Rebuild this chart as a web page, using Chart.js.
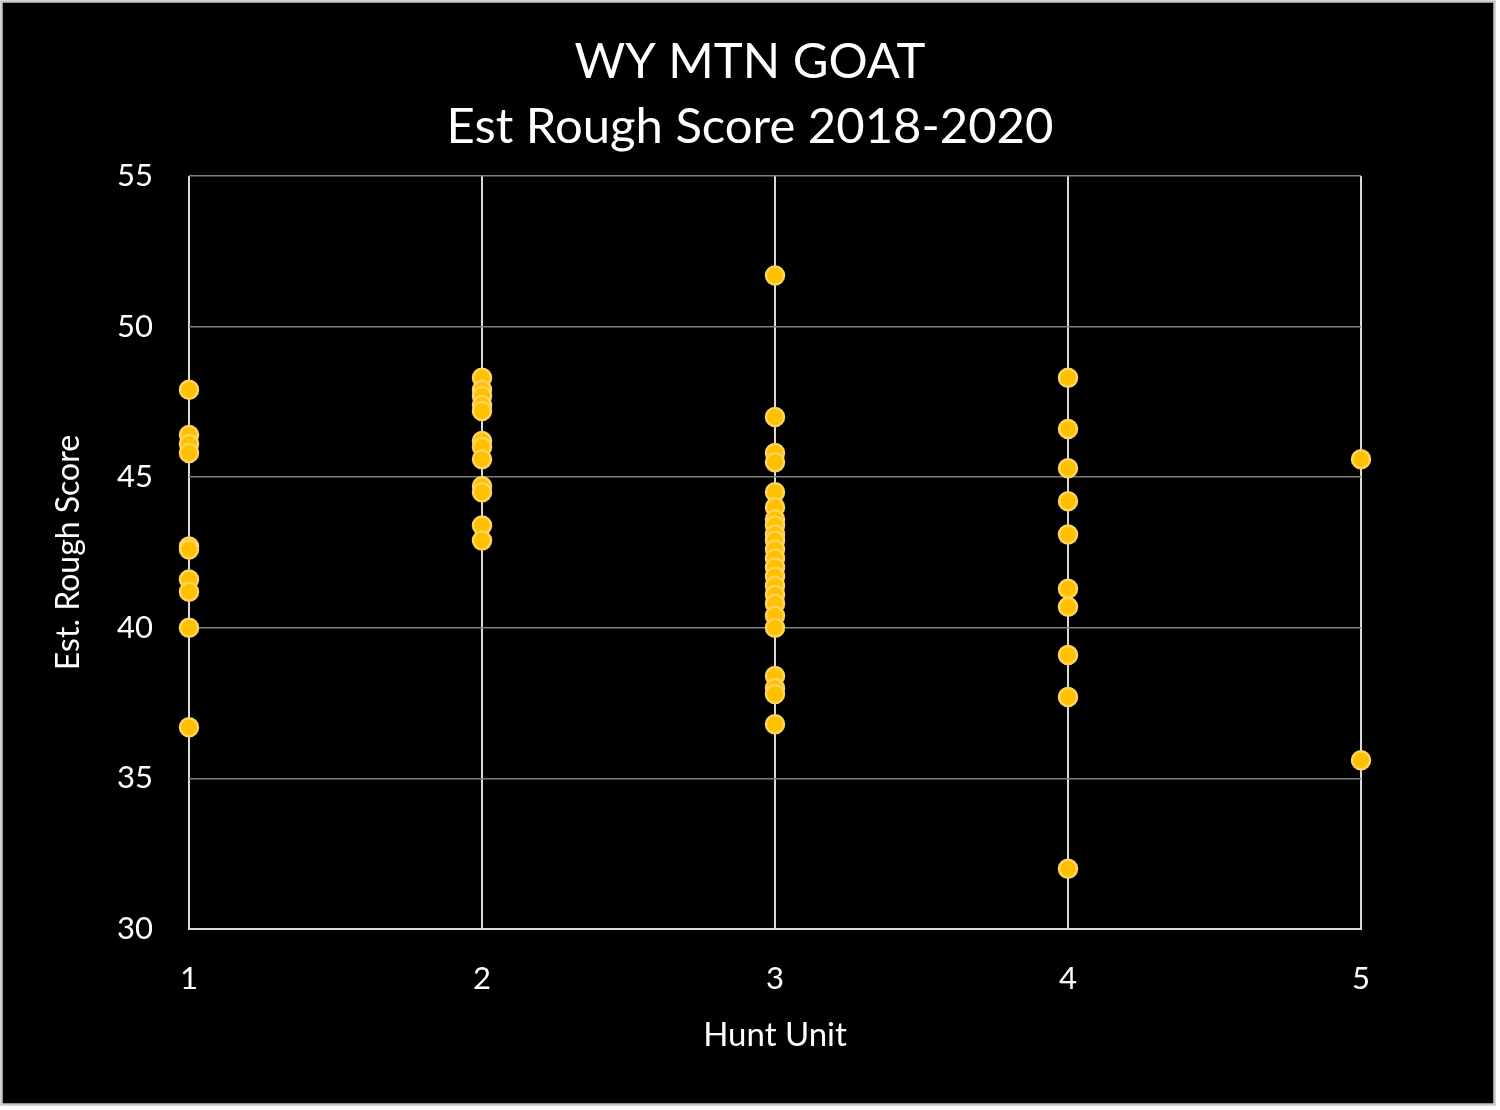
<!DOCTYPE html>
<html>
<head>
<meta charset="utf-8">
<script src="https://cdn.jsdelivr.net/npm/chart.js@4.4.1/dist/chart.umd.min.js"></script>
<style>
  html, body { margin: 0; padding: 0; background: #ffffff; }
  #wrap { width: 1500px; height: 1110px; }
</style>
</head>
<body>
<div id="wrap"><canvas id="c" width="1500" height="1110"></canvas></div>
<script>
const titleLines = ["WY MTN GOAT", "Est Rough Score 2018-2020"];
const xAxisTitle = "Hunt Unit";
const yAxisTitle = "Est. Rough Score";
const huntUnits = [1, 2, 3, 4, 5];
const unit1Scores = [47.9, 46.4, 46.1, 45.8, 42.7, 42.6, 41.6, 41.2, 40.0, 36.7];
const unit2Scores = [48.3, 47.9, 47.7, 47.4, 47.2, 46.2, 46.0, 45.6, 44.7, 44.5, 43.4, 42.9];
const unit3Scores = [51.7, 47.0, 45.8, 45.5, 44.5, 44.0, 43.6, 43.4, 43.1, 42.9, 42.6, 42.3, 42.0, 41.7, 41.4, 41.1, 40.8, 40.4, 40.0, 38.4, 38.0, 37.8, 36.8];
const unit4Scores = [48.3, 46.6, 45.3, 44.2, 43.1, 41.3, 40.7, 39.1, 37.7, 32.0];
const unit5Scores = [45.6, 35.6];
const yTicks = [30, 35, 40, 45, 50, 55];

const scoresByUnit = [unit1Scores, unit2Scores, unit3Scores, unit4Scores, unit5Scores];
const points = [];
huntUnits.forEach((u, i) => scoresByUnit[i].forEach(s => points.push({x: u, y: s})));

const FONT = "Lato, 'Open Sans', sans-serif";

const bgPlugin = {
  id: 'bg',
  beforeDraw(chart) {
    const ctx = chart.ctx;
    ctx.save();
    ctx.fillStyle = '#ffffff';
    ctx.fillRect(0, 0, chart.width, chart.height);
    ctx.fillStyle = '#000000';
    ctx.fillRect(1, 1, 1494, 1104);
    ctx.strokeStyle = '#c8c8c8';
    ctx.lineWidth = 2.5;
    ctx.strokeRect(1.5, 1.5, 1493, 1103);
    ctx.restore();
  },
  afterDraw(chart) {
    const ctx = chart.ctx;
    ctx.save();
    ctx.fillStyle = '#ffffff';
    ctx.font = "49px " + FONT;
    ctx.textAlign = 'center';
    ctx.textBaseline = 'middle';
    ctx.fillText(titleLines[0], 750, 62);
    ctx.fillText(titleLines[1], 750, 127);
    ctx.restore();
  }
};

new Chart(document.getElementById('c'), {
  type: 'scatter',
  data: {
    datasets: [{
      label: 'Est. Rough Score',
      data: points,
      backgroundColor: '#FFC000',
      borderColor: '#FFD45C',
      borderWidth: 2.5,
      pointRadius: 9,
      pointHoverRadius: 9,
      clip: false
    }]
  },
  options: {
    responsive: false,
    animation: false,
    devicePixelRatio: 1,
    layout: { padding: { left: 20, right: 139, top: 176, bottom: 0 } },
    plugins: {
      legend: { display: false },
      tooltip: { enabled: false },
      title: { display: false }
    },
    scales: {
      x: {
        type: 'linear',
        min: 1, max: 5,
        afterFit(scale) { scale.height = 181; },
        afterBuildTicks(scale) { scale.ticks = huntUnits.map(v => ({value: v})); },
        ticks: { color: '#ffffff', font: { family: FONT, size: 31 }, padding: 31, maxRotation: 0 },
        grid: { color: '#d9d9d9', lineWidth: 2, drawTicks: false },
        border: { display: true, color: '#d9d9d9', width: 2 },
        title: {
          display: true, text: xAxisTitle, color: '#ffffff',
          font: { family: FONT, size: 33, lineHeight: 1.2 },
          padding: { top: 0, bottom: 55 }
        }
      },
      y: {
        type: 'linear',
        min: 30, max: 55,
        afterFit(scale) { scale.width = 169; },
        afterBuildTicks(scale) { scale.ticks = yTicks.map(v => ({value: v})); },
        ticks: { color: '#ffffff', font: { family: FONT, size: 31 }, padding: 36 },
        grid: { color: '#808080', lineWidth: 1.5, drawTicks: false },
        border: { display: false },
        title: {
          display: true, text: yAxisTitle, color: '#ffffff',
          font: { family: FONT, size: 32, lineHeight: 1.2 },
          padding: { top: 29, bottom: 0 }
        }
      }
    }
  },
  plugins: [bgPlugin]
});
</script>
</body>
</html>
